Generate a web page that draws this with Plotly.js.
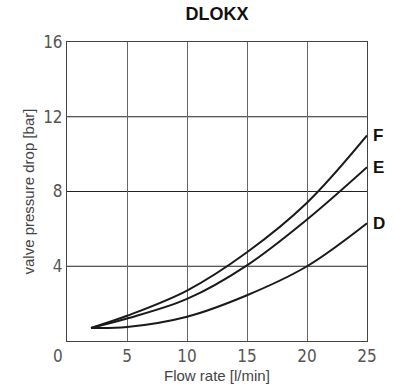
<!DOCTYPE html>
<html><head><meta charset="utf-8">
<script src="https://cdn.plot.ly/plotly-3.0.1.min.js"></script>
<style>body{margin:0;background:#fff}#c{width:394px;height:390px}</style>
</head><body><div id="c"></div>
<script>
const flow = [2, 5, 10, 15, 20, 25];
const seriesF = [0.7, 1.35, 2.7, 4.75, 7.4, 11.0];
const seriesE = [0.7, 1.2, 2.25, 4.05, 6.5, 9.3];
const seriesD = [0.7, 0.75, 1.3, 2.45, 4.0, 6.3];
const names = ['F', 'E', 'D'];
const xTicks = [0, 5, 10, 15, 20, 25];
const yTicks = [0, 4, 8, 12, 16];
const xTitle = 'Flow rate [l/min]';
const yTitle = 'valve pressure drop [bar]';

const tickFont = {family: 'DejaVu Sans Condensed, Liberation Sans Narrow, Liberation Sans, sans-serif', size: 17, color: '#555', weight: 200};
const titleFont = {family: 'Liberation Sans, Arial', size: 15, color: '#444'};
const all = [seriesF, seriesE, seriesD];
const traces = all.map((s, i) => ({
  x: flow, y: s, type: 'scatter', mode: 'lines', name: names[i],
  line: {color: '#1a1a1a', width: 2, shape: 'spline', smoothing: 1.0},
  showlegend: false, hoverinfo: 'skip'
}));
const shapes = yTicks.slice(1, -1).map(v => ({
  type: 'line', xref: 'paper', x0: 0, x1: 1, yref: 'y', y0: v, y1: v,
  line: {color: '#222', width: 1}, layer: 'below'
}));
const annotations = names.map((n, i) => ({
  xref: 'paper', x: 1, yref: 'y', y: all[i][all[i].length - 1],
  text: '<b>' + n + '</b>', showarrow: false, xanchor: 'left', xshift: 4,
  font: {family: 'Liberation Sans, Arial', size: 17, color: '#111'}
}));
annotations.push({
  xref: 'x', x: xTicks[0], yref: 'y', y: yTicks[0], text: String(xTicks[0]),
  showarrow: false, xanchor: 'center', yanchor: 'top', xshift: -9, yshift: -3,
  font: tickFont
});
annotations.push({
  xref: 'paper', x: 0.5, yref: 'paper', y: 0, text: xTitle, showarrow: false,
  xanchor: 'center', yanchor: 'middle', yshift: -34, font: titleFont
});
annotations.push({
  xref: 'paper', x: 0, yref: 'paper', y: 0.5, text: yTitle, showarrow: false,
  textangle: -90, xanchor: 'center', yanchor: 'middle', xshift: -39, font: titleFont
});
const layout = {
  width: 394, height: 390,
  margin: {l: 67, r: 27, t: 42, b: 49},
  paper_bgcolor: '#fff', plot_bgcolor: '#fff',
  title: {text: '<b>DLOKX</b>', x: 0.551, xanchor: 'center', y: 0.966, yanchor: 'middle',
    font: {family: 'Liberation Sans, Arial', size: 18, color: '#111'}},
  xaxis: {range: [0, 25], tickvals: xTicks.slice(1), ticktext: xTicks.slice(1).map(String),
    showgrid: true, gridcolor: '#666', gridwidth: 1, zeroline: false,
    showline: true, mirror: true, linecolor: '#444', linewidth: 1,
    ticks: '', tickfont: tickFont},
  yaxis: {range: [0, 16], tickvals: yTicks.slice(1), ticktext: yTicks.slice(1).map(String),
    showgrid: false, zeroline: false,
    showline: true, mirror: true, linecolor: '#444', linewidth: 1,
    ticks: '', tickfont: tickFont},
  shapes: shapes, annotations: annotations
};
Plotly.newPlot('c', traces, layout, {staticPlot: true, displayModeBar: false});
</script></body></html>
